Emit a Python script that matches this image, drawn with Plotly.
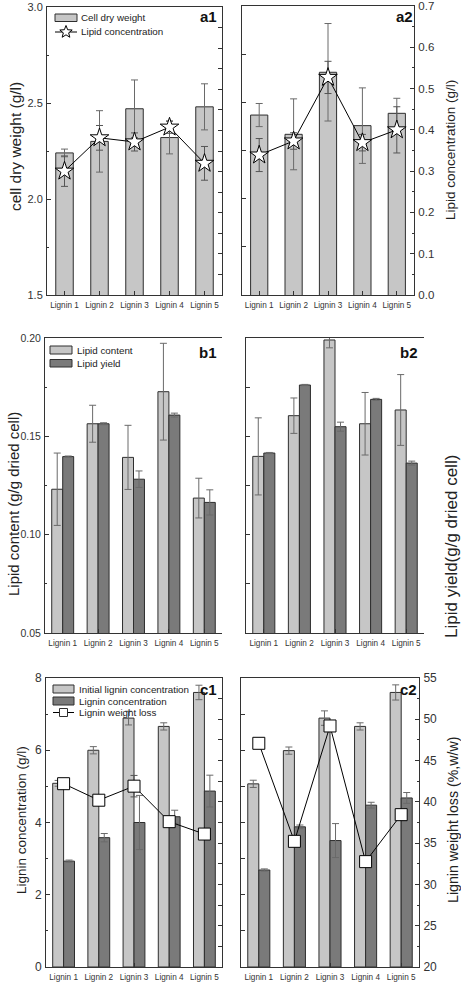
import math
import plotly.graph_objects as go

categories = ["Lignin 1", "Lignin 2", "Lignin 3", "Lignin 4", "Lignin 5"]

# panel a1
a1_cdw = [2.24, 2.30, 2.47, 2.32, 2.48]
a1_cdw_err = [0.02, 0.16, 0.15, 0.085, 0.12]
a1_lipid = [0.301, 0.382, 0.372, 0.408, 0.320]
a1_lipid_err = [0.037, 0.03, 0.022, 0.015, 0.041]
# panel a2
a2_cdw = [2.434, 2.334, 2.656, 2.379, 2.443]
a2_cdw_err = [0.06, 0.184, 0.253, 0.196, 0.078]
a2_lipid = [0.339, 0.373, 0.527, 0.369, 0.400]
a2_lipid_err = [0.04, 0.02, 0.039, 0.02, 0.056]
# panel b1
b1_content = [0.1231, 0.1564, 0.1393, 0.1727, 0.1186]
b1_content_err = [0.0184, 0.0094, 0.0163, 0.0246, 0.0101]
b1_yield = [0.1397, 0.1564, 0.1282, 0.1608, 0.1164]
b1_yield_err = [0.0003, 0.0005, 0.0042, 0.001, 0.0064]
# panel b2
b2_content = [0.1398, 0.1605, 0.199, 0.1564, 0.1634]
b2_content_err = [0.0196, 0.009, 0.004, 0.0159, 0.018]
b2_yield = [0.1415, 0.1761, 0.1549, 0.1688, 0.1364]
b2_yield_err = [0.0003, 0.0003, 0.0023, 0.0005, 0.001]
# panel c1
c1_initial = [5.085, 6.0, 6.89, 6.66, 7.60]
c1_initial_err = [0.08, 0.1, 0.19, 0.1, 0.2]
c1_lignin = [2.93, 3.58, 4.0, 4.16, 4.87]
c1_lignin_err = [0.03, 0.115, 0.75, 0.18, 0.44]
c1_loss = [42.2, 40.2, 41.9, 37.6, 36.1]
c1_loss_err = [0.5, 0.6, 1.3, 0.6, 0.3]
# panel c2
c2_initial = [5.07, 5.99, 6.89, 6.66, 7.60]
c2_initial_err = [0.1, 0.1, 0.2, 0.1, 0.21]
c2_lignin = [2.685, 3.88, 3.50, 4.48, 4.68]
c2_lignin_err = [0.03, 0.05, 0.47, 0.08, 0.15]
c2_loss = [47.09, 35.22, 49.19, 32.76, 38.45]
c2_loss_err = [0.5, 0.4, 0.3, 0.5, 0.6]

W, H = 461, 983
FONT = "Arial, Liberation Sans, sans-serif"
LIGHT = "#c6c6c6"
DARK = "#7a7a7a"
EDGE = "#2e2e2e"
ERRC = "#6a6a6a"
AX = "#333333"


def px_x(a, b):
    return [a / W, b / W]


def px_y(top, bottom):
    return [1 - bottom / H, 1 - top / H]


fig = go.Figure()


def err(vals, color=ERRC):
    return dict(type="data", array=vals, visible=True, color=color, thickness=1, width=3.5)


def bar(y, e, color, xa, ya, name, offset=None, width=None):
    kw = {}
    if offset is not None:
        kw["offset"] = offset
        kw["width"] = width
    else:
        kw["width"] = 0.5
    return go.Bar(x=categories, y=y, error_y=err(e), marker=dict(color=color, line=dict(color=EDGE, width=1)),
                  xaxis=xa, yaxis=ya, name=name, showlegend=False, **kw)


def line(y, e, symbol, size, xa, ya, name):
    return go.Scatter(x=categories, y=y, error_y=err(e, "#555555"), mode="lines+markers",
                      line=dict(color="black", width=1),
                      marker=dict(symbol=symbol, size=size, color="white", line=dict(color="black", width=1)),
                      xaxis=xa, yaxis=ya, name=name, showlegend=False)


# a1
fig.add_trace(bar(a1_cdw, a1_cdw_err, LIGHT, "x", "y", "Cell dry weight"))
fig.add_trace(line(a1_lipid, a1_lipid_err, "star", 14, "x", "y2", "Lipid concentration"))
# a2
fig.add_trace(bar(a2_cdw, a2_cdw_err, LIGHT, "x2", "y3", "Cell dry weight"))
fig.add_trace(line(a2_lipid, a2_lipid_err, "star", 14, "x2", "y4", "Lipid concentration"))
# b1
fig.add_trace(bar(b1_content, b1_content_err, LIGHT, "x3", "y5", "Lipid content", -0.31, 0.31))
fig.add_trace(bar(b1_yield, b1_yield_err, DARK, "x3", "y5", "Lipid yield", 0.0, 0.31))
# b2
fig.add_trace(bar(b2_content, b2_content_err, LIGHT, "x4", "y7", "Lipid content", -0.31, 0.31))
fig.add_trace(bar(b2_yield, b2_yield_err, DARK, "x4", "y7", "Lipid yield", 0.0, 0.31))
# c1
fig.add_trace(bar(c1_initial, c1_initial_err, LIGHT, "x5", "y9", "Initial lignin concentration", -0.31, 0.31))
fig.add_trace(bar(c1_lignin, c1_lignin_err, DARK, "x5", "y9", "Lignin concentration", 0.0, 0.31))
fig.add_trace(line(c1_loss, c1_loss_err, "square", 12, "x5", "y10", "Lignin weight loss"))
# c2
fig.add_trace(bar(c2_initial, c2_initial_err, LIGHT, "x6", "y11", "Initial lignin concentration", -0.31, 0.31))
fig.add_trace(bar(c2_lignin, c2_lignin_err, DARK, "x6", "y11", "Lignin concentration", 0.0, 0.31))
fig.add_trace(line(c2_loss, c2_loss_err, "square", 12, "x6", "y12", "Lignin weight loss"))

panels = [
    # x-domain px, y-domain px, left range, dtick, minor, labels, right range, dtick, minor, labels, tick font, format
    ((47, 222), (7, 295), [1.5, 3.0], 0.5, 0.25, True, [0, 0.7], 0.1, 0.05, False, 11, ".1f"),
    ((242, 414), (6, 295), [1.5, 3.0], 0.5, 0.25, False, [0, 0.7], 0.1, 0.05, True, 11.5, ".1f"),
    ((45, 222), (338, 633), [0.05, 0.20], 0.05, 0.025, True, [0.05, 0.20], 0.05, 0.025, False, 10.5, ".2f"),
    ((246, 424), (338, 633), [0.05, 0.20], 0.05, 0.025, False, [0.05, 0.20], 0.05, 0.025, True, 10.5, ".2f"),
    ((46, 222), (678, 967), [0, 8], 2, 1, True, [20, 55], 5, 2.5, False, 12, "d"),
    ((241, 419), (678, 967), [0, 8], 2, 1, False, [20, 55], 5, 2.5, True, 12, "d"),
]

layout = {}
for i, (xd, yd, lr, ldt, lmin, llab, rr, rdt, rmin, rlab, tfs, tf) in enumerate(panels):
    xn = "xaxis" if i == 0 else f"xaxis{i + 1}"
    xid = "x" if i == 0 else f"x{i + 1}"
    yl = 2 * i + 1
    yr = 2 * i + 2
    yln = "yaxis" if yl == 1 else f"yaxis{yl}"
    ylid = "y" if yl == 1 else f"y{yl}"
    layout[xn] = dict(domain=px_x(*xd), anchor=ylid, type="category", range=[-0.5, 4.5],
                      showline=True, mirror=True, linecolor=AX, linewidth=1, automargin=False,
                      ticks="inside", ticklen=4, tickcolor=AX, ticklabelstandoff=2,
                      tickfont=dict(size=8.2, color="#333", family=FONT), showgrid=False, zeroline=False)
    for (name, rng, dt, mn, lab, side) in [
        (yln, lr, ldt, lmin, llab, "left"),
        (f"yaxis{yr}", rr, rdt, rmin, rlab, "right"),
    ]:
        d = dict(range=rng, dtick=dt, tick0=rng[0], showline=True, linecolor=AX, linewidth=1,
                 showgrid=False, zeroline=False, side=side, anchor=xid, automargin=False,
                 tickcolor=AX, tickformat=tf, ticks="inside", ticklen=4,
                 tickfont=dict(size=tfs, color="#333", family=FONT))
        if side == "left":
            d["domain"] = px_y(*yd)
        else:
            d["overlaying"] = ylid
        if lab:
            d.update(showticklabels=True, ticklabelstandoff=1,
                     minor=dict(ticks="inside", ticklen=2, dtick=mn, tick0=rng[0], tickcolor=AX))
        else:
            d.update(showticklabels=False,
                     minor=dict(ticks="inside", ticklen=4, dtick=mn, tick0=rng[0], tickcolor=AX))
        layout[name] = d

fig.update_layout(**layout)

annos = []
titles = [
    ("cell dry weight (g/l)", 15, 147, 15.5),
    ("Lipid concentration (g/l)", 450, 150, 13.5),
    ("Lipid content (g/g dried cell)", 13, 504, 15),
    ("Lipid yield(g/g dried cell)", 451, 547, 17),
    ("Lignin concentration (g/l)", 21, 820, 13.5),
    ("Lignin weight loss (%,w/w)", 453, 820, 14.2),
]
for t, x, y, s in titles:
    annos.append(dict(text=t, x=x / W, y=1 - y / H, xref="paper", yref="paper", showarrow=False,
                      textangle=-90, font=dict(size=s, color="#222", family=FONT), xanchor="center", yanchor="middle"))
labels = [("a1", 208, 17), ("a2", 404, 17), ("b1", 208, 352), ("b2", 409, 352), ("c1", 208, 689), ("c2", 408, 689)]
for t, x, y in labels:
    annos.append(dict(text=f"<b>{t}</b>", x=x / W, y=1 - y / H, xref="paper", yref="paper", showarrow=False,
                      font=dict(size=15, color="#111", family=FONT), xanchor="center", yanchor="middle"))

# hand-drawn legends (shapes + text), positions in pixels
shapes = []


def P(x, y):
    return x / W, 1 - y / H


def leg_rect(x0, y0, x1, y1, color):
    a, b = P(x0, y1)
    c, d = P(x1, y0)
    shapes.append(dict(type="rect", xref="paper", yref="paper", x0=a, y0=b, x1=c, y1=d,
                       fillcolor=color, line=dict(color=EDGE, width=1), layer="above"))


def leg_line(x0, x1, y):
    a, b = P(x0, y)
    c, _ = P(x1, y)
    shapes.append(dict(type="line", xref="paper", yref="paper", x0=a, y0=b, x1=c, y1=b,
                       line=dict(color="black", width=1), layer="above"))


def leg_star(cx, cy, R, r):
    pts = []
    for k in range(10):
        ang = -math.pi / 2 + k * math.pi / 5
        rad = R if k % 2 == 0 else r
        px, py = P(cx + rad * math.cos(ang), cy + rad * math.sin(ang))
        pts.append(f"{px:.5f},{py:.5f}")
    path = "M" + " L".join(pts) + " Z"
    shapes.append(dict(type="path", xref="paper", yref="paper", path=path,
                       fillcolor="white", line=dict(color="black", width=1), layer="above"))


def leg_text(t, x, y):
    a, b = P(x, y)
    annos.append(dict(text=t, x=a, y=b, xref="paper", yref="paper", showarrow=False,
                      xanchor="left", yanchor="middle", font=dict(size=9.8, color="#222", family=FONT)))


# a1 legend
leg_rect(55, 14, 77, 21.5, LIGHT)
leg_text("Cell dry weight", 79, 17.5)
leg_line(55, 77, 32)
leg_star(66, 32, 6.5, 2.8)
leg_text("Lipid concentration", 79, 32)
# b1 legend
leg_rect(50, 346, 72, 354, LIGHT)
leg_text("Lipid content", 75, 350)
leg_rect(50, 359.5, 72, 367, DARK)
leg_text("Lipid yield", 75, 363.5)
# c1 legend
leg_rect(53, 685, 74, 693, LIGHT)
leg_text("Initial lignin concentration", 77, 689)
leg_rect(53, 697, 74, 705, DARK)
leg_text("Lignin concentration", 77, 701)
leg_line(53, 74, 712.5)
leg_rect(59.5, 708.5, 67.5, 716.5, "white")
leg_text("Lignin weight loss", 77, 712.5)

fig.update_layout(
    template="none",
    width=W, height=H, margin=dict(l=0, r=0, t=0, b=0, pad=0),
    paper_bgcolor="white", plot_bgcolor="white",
    barmode="overlay", annotations=annos, shapes=shapes,
    font=dict(family=FONT), showlegend=False,
)

fig.write_html(
    "out.html",
    config={"displayModeBar": False},
    post_script=(
        "document.documentElement.style.margin='0';document.body.style.margin='0';"
        "document.body.style.padding='0';document.documentElement.style.overflow='hidden';"
        "document.body.style.overflow='hidden';window.scrollTo(0,0);"
    ),
)
